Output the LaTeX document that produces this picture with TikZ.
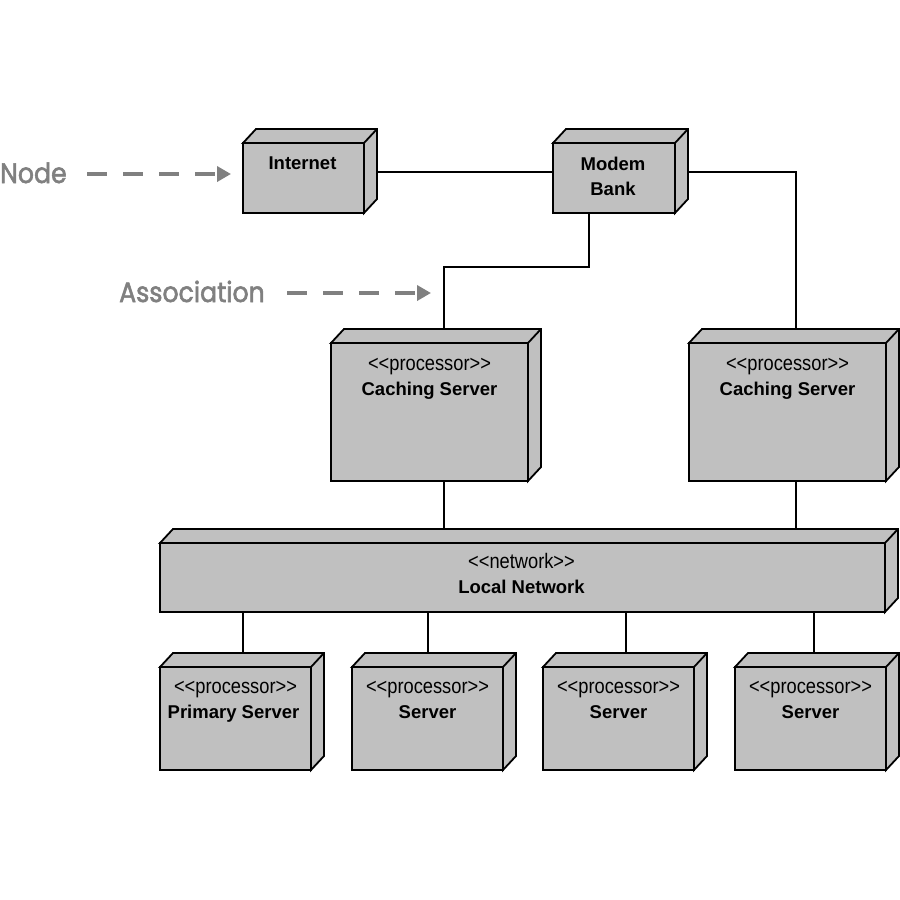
\documentclass[tikz,border=0pt]{standalone}
\usepackage{fontspec}
\setmainfont{Liberation Sans}
\newfontfamily\stfont{Liberation Sans}[FakeStretch=0.87]
\newfontfamily\lblfont{Poppins}[FakeBold=2,FakeStretch=0.9]
\usetikzlibrary{arrows.meta}
\definecolor{boxgray}{RGB}{192,192,192}
\definecolor{lblgray}{RGB}{128,128,128}
\tikzset{
  dbox/.style={draw=black, line width=1.8pt, fill=boxgray, rectangle, outer sep=0pt, inner sep=0pt, anchor=north west},
  face/.style={draw=black, line width=1.8pt, fill=boxgray, line join=miter},
  conn/.style={draw=black, line width=1.5pt},
  stereo/.style={font={\fontsize{21}{24}\selectfont\stfont}, inner sep=0pt, anchor=base},
  title/.style={font={\fontsize{18.5}{25}\selectfont\bfseries}, inner sep=0pt, align=center, anchor=base},
  lbl/.style={font={\fontsize{28}{30}\selectfont\lblfont}, text=lblgray, inner sep=0pt, anchor=base west},
  dasharr/.style={draw=lblgray, line width=4pt, dash pattern=on 20pt off 16pt, -{Triangle[length=14pt,width=15pt]}}
}
\newcommand{\depthfaces}[1]{%
  \draw[face] (#1.north west) -- ([shift={(13,-14)}]#1.north west) -- ([shift={(13,-14)}]#1.north east) -- ([shift={(13,-14)}]#1.south east) -- (#1.south east) -- (#1.north east) -- cycle;
  \draw[face] (#1.north east) -- ([shift={(13,-14)}]#1.north east);
}
\begin{document}
\begin{tikzpicture}[x=1pt,y=-1pt]
\useasboundingbox[fill=white] (0,0) rectangle (900,900);

% boxes
\node[dbox, minimum width=121pt, minimum height=70pt] (inet) at (243,143) {};
\depthfaces{inet}
\node[dbox, minimum width=122pt, minimum height=70pt] (modem) at (553,143) {};
\depthfaces{modem}
\node[dbox, minimum width=197pt, minimum height=138pt] (cs1) at (331,343) {};
\depthfaces{cs1}
\node[dbox, minimum width=197pt, minimum height=138pt] (cs2) at (689,343) {};
\depthfaces{cs2}
\node[dbox, minimum width=725pt, minimum height=69pt] (net) at (160,543) {};
\depthfaces{net}
\node[dbox, minimum width=151pt, minimum height=103pt] (s1) at (160,667) {};
\depthfaces{s1}
\node[dbox, minimum width=151pt, minimum height=103pt] (s2) at (352,667) {};
\depthfaces{s2}
\node[dbox, minimum width=151pt, minimum height=103pt] (s3) at (543,667) {};
\depthfaces{s3}
\node[dbox, minimum width=151pt, minimum height=103pt] (s4) at (735,667) {};
\depthfaces{s4}

% texts
\node[title] (inett) at ([shift={(-1,26)}]inet.north) {Internet};
\node[title] (modemt) at ([shift={(-1,52)}]modem.north) {Modem\\Bank};
\node[stereo] (cs1st) at ([shift={(0,27)}]cs1.north) {<<processor>>};
\node[title] (cs1t) at ([shift={(0,52)}]cs1.north) {Caching Server};
\node[stereo] (cs2st) at ([shift={(0,27)}]cs2.north) {<<processor>>};
\node[title] (cs2t) at ([shift={(0,52)}]cs2.north) {Caching Server};
\node[stereo] (netst) at ([shift={(-1,25)}]net.north) {<<network>>};
\node[title] (nett) at ([shift={(-1,50)}]net.north) {Local Network};
\node[stereo] (s1st) at ([shift={(0,26)}]s1.north) {<<processor>>};
\node[title] (s1t) at ([shift={(-2,51)}]s1.north) {Primary Server};
\node[stereo] (s2st) at ([shift={(0,26)}]s2.north) {<<processor>>};
\node[title] (s2t) at ([shift={(0,51)}]s2.north) {Server};
\node[stereo] (s3st) at ([shift={(0,26)}]s3.north) {<<processor>>};
\node[title] (s3t) at ([shift={(0,51)}]s3.north) {Server};
\node[stereo] (s4st) at ([shift={(0,26)}]s4.north) {<<processor>>};
\node[title] (s4t) at ([shift={(0,51)}]s4.north) {Server};

% connectors
\coordinate (inetside) at ([shift={(13,-6)}]inet.east);
\draw[conn] (inetside) -- (inetside -| modem.west);
\coordinate (modemside) at ([shift={(13,-6)}]modem.east);
\coordinate (cs2top) at ([shift={(8.5,-14)}]cs2.north);
\draw[conn] (modemside) -| (cs2top);
\coordinate (modembot) at ([shift={(-25,0)}]modem.south);
\coordinate (cs1top) at ([shift={(14.5,-14)}]cs1.north);
\draw[conn] (modembot) -- ++(0,54) -| (cs1top);
\coordinate (nettop) at ([shift={(0,-14)}]net.north);
\coordinate (cs1bot) at ([shift={(14.5,0)}]cs1.south);
\coordinate (cs2bot) at ([shift={(8.5,0)}]cs2.south);
\draw[conn] (cs1bot) -- (cs1bot |- nettop);
\draw[conn] (cs2bot) -- (cs2bot |- nettop);
\coordinate (s1top) at ([shift={(7.5,-14)}]s1.north);
\coordinate (s2top) at ([shift={(0.5,-14)}]s2.north);
\coordinate (s3top) at ([shift={(7.5,-14)}]s3.north);
\coordinate (s4top) at ([shift={(3.5,-14)}]s4.north);
\draw[conn] (s1top) -- (s1top |- net.south);
\draw[conn] (s2top) -- (s2top |- net.south);
\draw[conn] (s3top) -- (s3top |- net.south);
\draw[conn] (s4top) -- (s4top |- net.south);

% annotation labels
\node[lbl] (nodelbl) at (0,183) {Node};
\coordinate (nodetail) at (87,174);
\coordinate (nodetip) at (231,174);
\draw[dasharr] (nodetail) -- (nodetip);
\node[lbl] (assoclbl) at (119,302) {Association};
\coordinate (assoctail) at (287,293);
\coordinate (assoctip) at (431,293);
\draw[dasharr] (assoctail) -- (assoctip);
\end{tikzpicture}
\end{document}
